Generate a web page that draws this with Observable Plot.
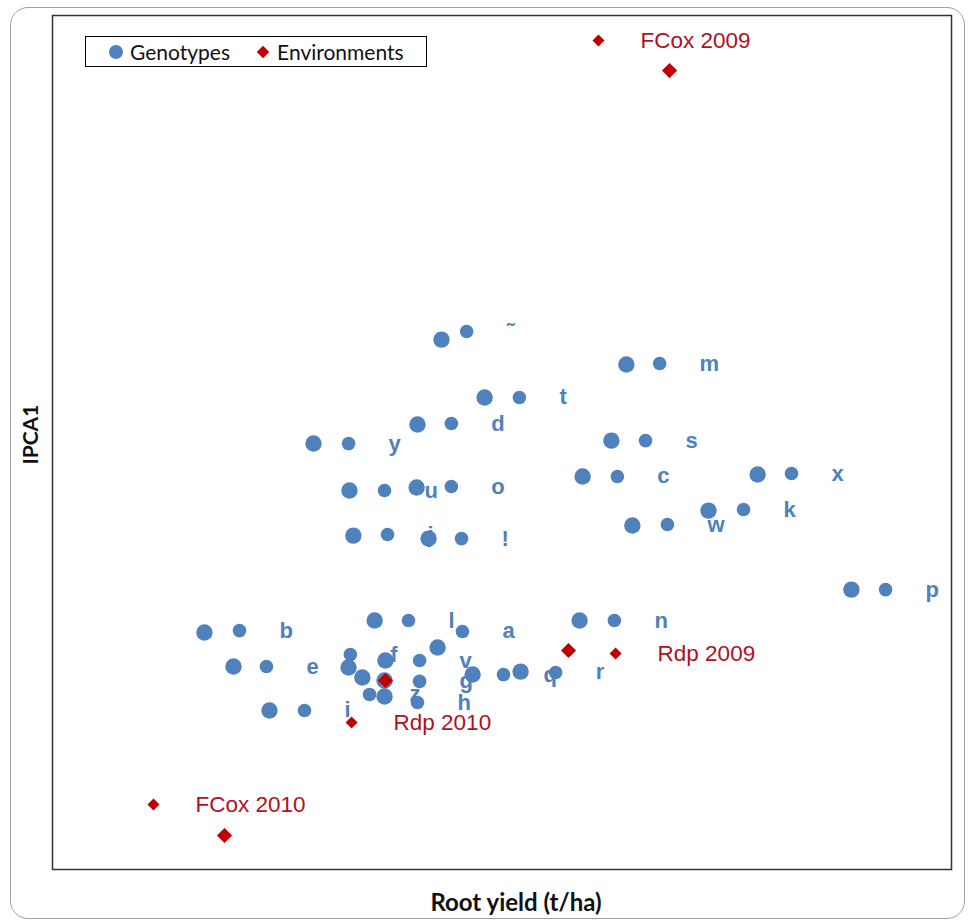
<!DOCTYPE html>
<html>
<head>
<meta charset="utf-8">
<script src="https://cdn.jsdelivr.net/npm/d3@7"></script>
<script src="https://cdn.jsdelivr.net/npm/@observablehq/plot@0.6"></script>
<style>
  html, body { margin: 0; padding: 0; background: #fff; }
  #wrap { position: relative; width: 971px; height: 922px; overflow: hidden; }
  #outer { position: absolute; left: 10px; top: 7px; width: 955px; height: 912px;
           border: 1.5px solid #a0a0a0; border-radius: 18px; box-sizing: border-box; }
  #chart { position: absolute; left: 0; top: 0; }
  #legend { position: absolute; left: 85px; top: 36px; width: 342px; height: 31px;
            border: 1px solid #000; box-sizing: border-box; background: #fff;
            display: flex; align-items: center; font-family: Lato, sans-serif; font-size: 21px; color: #111; }
  #legend .item { display: flex; align-items: center; }
  #legend svg { display: block; }
</style>
</head>
<body>
<div id="wrap">
  <div id="outer"></div>
  <div id="chart"></div>
  <div id="legend"></div>
</div>
<script>
// ---- Data (no tick values shown, units estimated) ----
const genotypes   = ["˜","m","t","d","y","s","c","x","u","o","k","w","j","!","p","n","b","e","i","l","a","v","g","h","z","q","r","f"];
const genoYield   = [22.98,29.15,24.42,22.18,18.71,28.65,27.69,33.53,19.91,22.15,31.89,29.35,20.04,22.55,36.66,27.59,15.07,16.04,17.24,20.75,22.85,21.11,21.08,21.08,20.34,24.02,25.62,19.88];
const genoIPCA1   = [0.482,0.365,0.211,0.084,-0.005,0.009,-0.159,-0.150,-0.225,-0.211,-0.319,-0.389,-0.436,-0.450,-0.689,-0.834,-0.890,-1.049,-1.255,-0.834,-0.960,-1.021,-1.115,-1.190,-1.101,-1.087,-1.073,-1.054];
// data-label anchors (label key position) in data units
const genoLabelYield = [23.82,30.26,25.58,23.31,19.88,29.79,28.85,34.66,21.08,23.31,33.06,30.52,21.18,23.65,37.80,28.75,16.24,17.14,18.41,21.88,23.68,22.25,22.25,22.18,20.58,25.05,26.79,19.94];
const genoLabelIPCA1 = [0.520,0.370,0.211,0.089,-0.005,0.009,-0.159,-0.145,-0.225,-0.206,-0.314,-0.384,-0.431,-0.450,-0.689,-0.834,-0.881,-1.049,-1.255,-0.834,-0.885,-1.021,-1.119,-1.218,-1.180,-1.087,-1.077,-0.993];

const environments = ["FCox 2009","FCox 2010","Rdp 2009","Rdp 2010"];
const envYield     = [30.59,15.74,27.22,21.11];
const envIPCA1     = [1.742,-1.841,-0.974,-1.115];
const envLabelYield = [28.22,13.37,28.79,19.98];
const envLabelIPCA1 = [1.883,-1.696,-0.988,-1.311];

const xTitle = "Root yield (t/ha)";
const yTitle = "IPCA1";
const legendItems = ["Genotypes","Environments"];

// ---- Build tables ----
const geno = genotypes.map((name, i) => ({name, x: genoYield[i], y: genoIPCA1[i], lx: genoLabelYield[i], ly: genoLabelIPCA1[i]}));
const env = environments.map((name, i) => ({name, x: envYield[i], y: envIPCA1[i], lx: envLabelYield[i], ly: envLabelIPCA1[i]}));

const BLUE = "#4F81BD";
const RED = "#C00000";

const chart = Plot.plot({
  width: 971,
  height: 922,
  marginLeft: 52,
  marginRight: 20,
  marginTop: 15,
  marginBottom: 53,
  x: {domain: [10, 40], axis: null},
  y: {domain: [-2, 2], axis: null},
  style: {background: "transparent"},
  marks: [
    Plot.frame({stroke: "#333", strokeWidth: 1.5}),
    Plot.dot(geno, {x: "x", y: "y", r: 8.2, fill: BLUE}),
    Plot.dot(geno, {x: "lx", y: "ly", r: 6.8, fill: BLUE}),
    Plot.text(geno, {x: "lx", y: "ly", text: "name", dx: 40, textAnchor: "start", fill: BLUE,
                     fontWeight: "bold", fontSize: 22, fontFamily: "Liberation Sans, Arial, sans-serif"}),
    Plot.dot(env, {x: "x", y: "y", symbol: "diamond2", r: 6.8, fill: RED}),
    Plot.dot(env, {x: "lx", y: "ly", symbol: "diamond2", r: 5.4, fill: RED}),
    Plot.text(env, {x: "lx", y: "ly", text: "name", dx: 42, textAnchor: "start", fill: "#B01020",
                    fontSize: 22.5, fontFamily: "Liberation Sans, Arial, sans-serif"}),
    Plot.text([xTitle], {text: d => d, frameAnchor: "bottom", dx: 14, dy: 41, fill: "#111",
                         fontWeight: "bold", fontSize: 24, fontFamily: "Lato, sans-serif"}),
    Plot.text([yTitle], {text: d => d, frameAnchor: "left", dx: -21, dy: 22, rotate: -90, fill: "#111",
                         fontWeight: "bold", fontSize: 21, fontFamily: "Lato, sans-serif"})
  ]
});
document.getElementById("chart").appendChild(chart);

// ---- Legend ----
const legend = d3.select("#legend");
const symbols = [d3.symbolCircle, d3.symbolDiamond2];
const colors = [BLUE, RED];
const sizes = [Math.PI * 7 * 7, Math.PI * 5.6 * 5.6];
legendItems.forEach((label, i) => {
  const item = legend.append("div").attr("class", "item").style("margin-left", i === 0 ? "22px" : "25px");
  const s = item.append("svg").attr("width", 16).attr("height", 16);
  s.append("path").attr("transform", "translate(8,8)")
    .attr("d", d3.symbol(symbols[i], sizes[i])()).attr("fill", colors[i]);
  item.append("span").style("margin-left", "6px").text(label);
});
</script>
</body>
</html>
